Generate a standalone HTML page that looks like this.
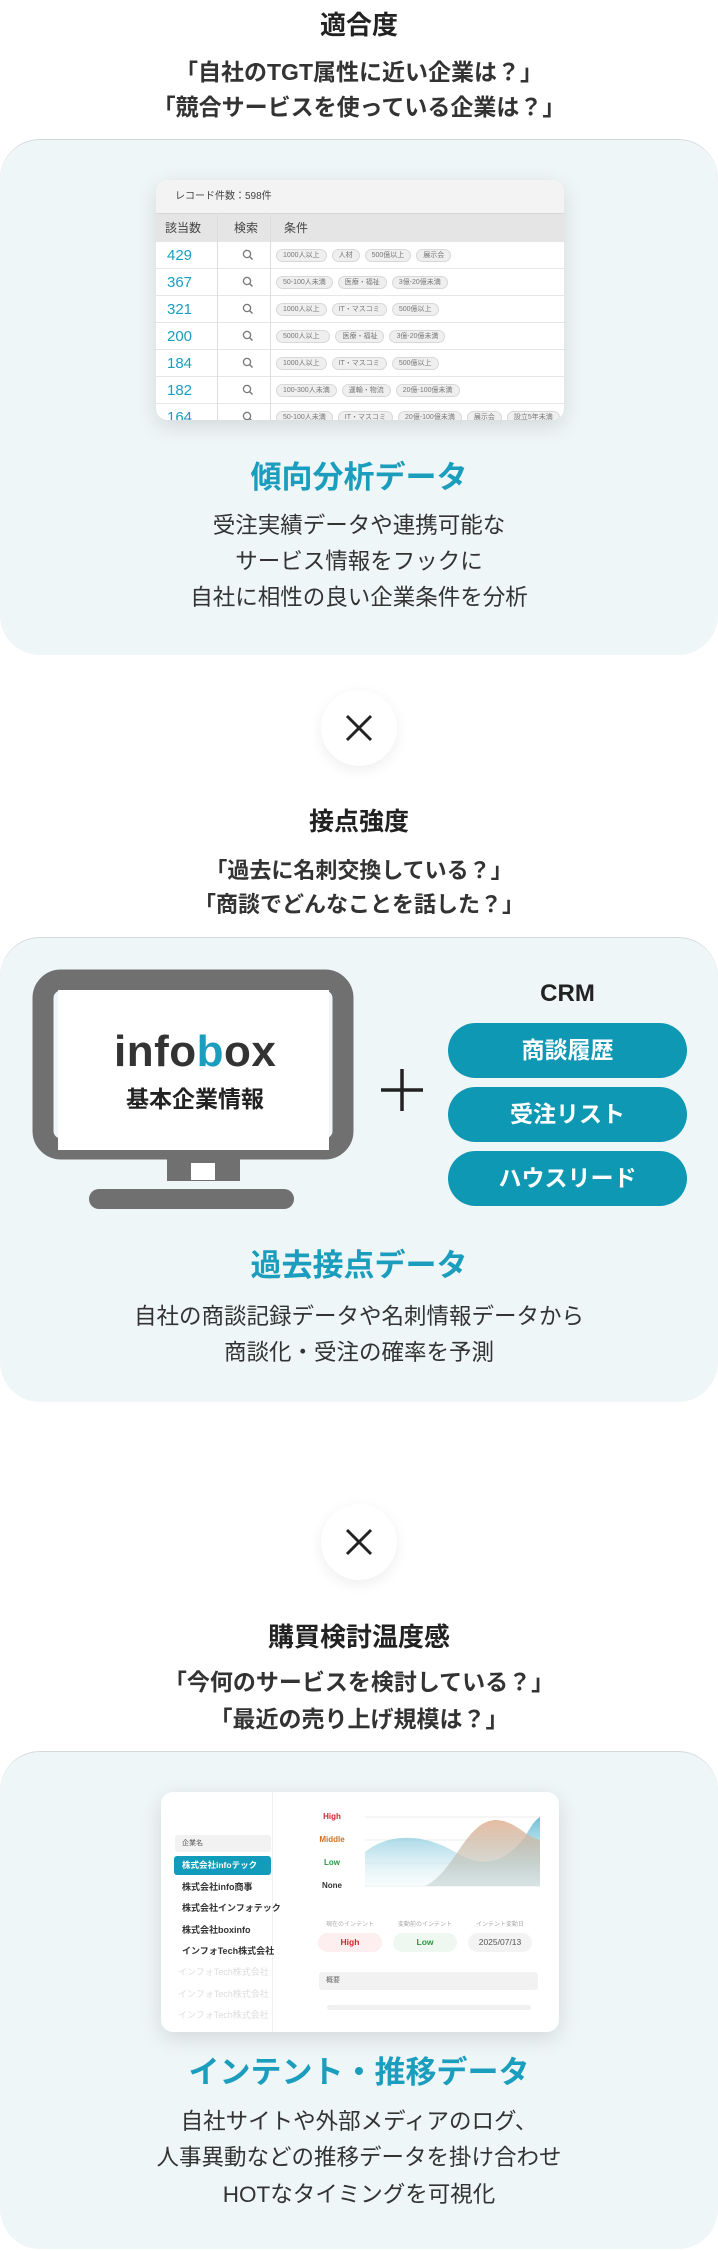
<!DOCTYPE html>
<html><head><meta charset="utf-8"><style>
*{margin:0;padding:0;box-sizing:border-box}
body{width:718px;height:2251px;position:relative;background:#fff;font-family:"Liberation Sans","Noto Sans CJK JP",sans-serif;color:#333;overflow:hidden}
.t{position:absolute;left:0;width:718px;text-align:center;white-space:nowrap}
.h{font-weight:700;color:#222}
.q{font-weight:700;color:#333;font-size:22.5px;line-height:30px}
.ttl{font-weight:700;color:#1b9dbd;font-size:31px;line-height:40px}
.d{font-size:22.5px;line-height:30px;color:#333}
.panel{position:absolute;left:0;width:718px;background:#eff6f7;border-radius:40px;border-top:1px solid #d3d9da}
.xc{position:absolute;width:76px;height:76px;border-radius:50%;background:#fff;box-shadow:0 4px 14px rgba(0,0,0,.07)}
.card{position:absolute;background:#fff;border-radius:12px;box-shadow:0 6px 22px rgba(0,0,0,.12);overflow:hidden}
.row{position:absolute;left:0;width:408px;height:27px;border-top:1px solid #e6e6e6;background:#fff}
.num{position:absolute;left:11px;top:5px;font-size:15px;color:#1b9dbd;font-weight:500}
.mag{position:absolute;left:86px;top:7px}
.chips{position:absolute;left:120px;top:7px;display:flex;gap:5px}
.chip{height:13px;border-radius:7px;background:#efefef;border:1px solid #d8d8d8;font-size:7px;line-height:11px;color:#777;padding:0 6px}
.pill{position:absolute;left:448px;width:239px;height:55px;border-radius:28px;background:#0f98b3;color:#fff;font-weight:700;font-size:23px;line-height:55px;text-align:center}
.it{position:absolute;left:182px;font-size:9px;font-weight:700;color:#333;line-height:12px}
</style></head><body>

<div class="t h" style="top:9px;font-size:26px;line-height:32px">適合度</div>
<div class="t q" style="top:57px;font-size:23px">「自社のTGT属性に近い企業は？」</div>
<div class="t q" style="top:92px;font-size:23px">「競合サービスを使っている企業は？」</div>

<div class="panel" style="top:139px;height:516px"></div>

<div class="card" style="left:156px;top:180px;width:408px;height:240px;background:#fff">
  <div style="position:absolute;left:0;top:0;width:408px;height:33px;background:#f3f3f3;font-size:10px;line-height:33px;padding-left:19px;color:#444">レコード件数：598件</div>
  <div style="position:absolute;left:0;top:33px;width:408px;height:28px;background:#e5e5e5;border-top:1px solid #d6d6d6;font-size:12px;line-height:28px;color:#444">
    <span style="position:absolute;left:9px">該当数</span><span style="position:absolute;left:78px">検索</span><span style="position:absolute;left:128px">条件</span></div>
  <div style="position:absolute;left:61px;top:33px;width:1px;height:240px;background:#ddd;z-index:3"></div>
  <div style="position:absolute;left:114px;top:33px;width:1px;height:240px;background:#ddd;z-index:3"></div>
  <div class="row" style="top:61px"><span class="num">429</span><svg class="mag" width="12" height="12"><circle cx="5" cy="5" r="3.6" fill="none" stroke="#777" stroke-width="1.3"/><line x1="7.6" y1="7.6" x2="10.5" y2="10.5" stroke="#777" stroke-width="1.4"/></svg><div class="chips"><span class="chip">1000人以上</span><span class="chip">人材</span><span class="chip">500億以上</span><span class="chip">展示会</span></div></div>
  <div class="row" style="top:88px"><span class="num">367</span><svg class="mag" width="12" height="12"><circle cx="5" cy="5" r="3.6" fill="none" stroke="#777" stroke-width="1.3"/><line x1="7.6" y1="7.6" x2="10.5" y2="10.5" stroke="#777" stroke-width="1.4"/></svg><div class="chips"><span class="chip">50-100人未満</span><span class="chip">医療・福祉</span><span class="chip">3億-20億未満</span></div></div>
  <div class="row" style="top:115px"><span class="num">321</span><svg class="mag" width="12" height="12"><circle cx="5" cy="5" r="3.6" fill="none" stroke="#777" stroke-width="1.3"/><line x1="7.6" y1="7.6" x2="10.5" y2="10.5" stroke="#777" stroke-width="1.4"/></svg><div class="chips"><span class="chip">1000人以上</span><span class="chip">IT・マスコミ</span><span class="chip">500億以上</span></div></div>
  <div class="row" style="top:142px"><span class="num">200</span><svg class="mag" width="12" height="12"><circle cx="5" cy="5" r="3.6" fill="none" stroke="#777" stroke-width="1.3"/><line x1="7.6" y1="7.6" x2="10.5" y2="10.5" stroke="#777" stroke-width="1.4"/></svg><div class="chips"><span class="chip">5000人以上&nbsp;&nbsp;</span><span class="chip">医療・福祉</span><span class="chip">3億-20億未満</span></div></div>
  <div class="row" style="top:169px"><span class="num">184</span><svg class="mag" width="12" height="12"><circle cx="5" cy="5" r="3.6" fill="none" stroke="#777" stroke-width="1.3"/><line x1="7.6" y1="7.6" x2="10.5" y2="10.5" stroke="#777" stroke-width="1.4"/></svg><div class="chips"><span class="chip">1000人以上</span><span class="chip">IT・マスコミ</span><span class="chip">500億以上</span></div></div>
  <div class="row" style="top:196px"><span class="num">182</span><svg class="mag" width="12" height="12"><circle cx="5" cy="5" r="3.6" fill="none" stroke="#777" stroke-width="1.3"/><line x1="7.6" y1="7.6" x2="10.5" y2="10.5" stroke="#777" stroke-width="1.4"/></svg><div class="chips"><span class="chip">100-300人未満</span><span class="chip">運輸・物流</span><span class="chip">20億-100億未満</span></div></div>
  <div class="row" style="top:223px"><span class="num">164</span><svg class="mag" width="12" height="12"><circle cx="5" cy="5" r="3.6" fill="none" stroke="#777" stroke-width="1.3"/><line x1="7.6" y1="7.6" x2="10.5" y2="10.5" stroke="#777" stroke-width="1.4"/></svg><div class="chips"><span class="chip">50-100人未満</span><span class="chip">IT・マスコミ</span><span class="chip">20億-100億未満</span><span class="chip">展示会</span><span class="chip">設立5年未満</span></div></div>
</div>

<div class="t ttl" style="top:458px">傾向分析データ</div>
<div class="t d" style="top:511px">受注実績データや連携可能な</div>
<div class="t d" style="top:547px">サービス情報をフックに</div>
<div class="t d" style="top:583px">自社に相性の良い企業条件を分析</div>

<!-- X 1 -->
<div class="xc" style="left:321px;top:690px"></div>
<svg style="position:absolute;left:345px;top:714px" width="28" height="28"><line x1="2" y1="2" x2="26" y2="26" stroke="#222" stroke-width="3"/><line x1="26" y1="2" x2="2" y2="26" stroke="#222" stroke-width="3"/></svg>

<div class="t h" style="top:807px;font-size:25px;line-height:30px">接点強度</div>
<div class="t q" style="top:856px;font-size:22px">「過去に名刺交換している？」</div>
<div class="t q" style="top:890px;font-size:22px">「商談でどんなことを話した？」</div>

<div class="panel" style="top:937px;height:465px"></div>

<svg style="position:absolute;left:0;top:960px" width="400" height="260">
  <rect x="43" y="20" width="300" height="169" rx="18" fill="none" stroke="#707070" stroke-width="21"/>
  <rect x="58" y="30" width="271" height="160" fill="#fff"/>
  <rect x="167" y="199" width="73" height="22" fill="#707070"/>
  <rect x="191" y="203" width="24" height="17" fill="#fff"/>
  <rect x="89" y="229" width="205" height="20" rx="10" fill="#707070"/>
</svg>
<div style="position:absolute;left:114px;top:1026px;width:166px;font-size:44px;font-weight:700;line-height:52px;color:#333;letter-spacing:0.5px">info<span style="color:#1b9dbd">b</span>ox</div>
<div style="position:absolute;left:100px;top:1085px;width:190px;text-align:center;font-size:23px;font-weight:700;line-height:28px;color:#222">基本企業情報</div>

<svg style="position:absolute;left:380px;top:1068px" width="44" height="44"><line x1="22" y1="1" x2="22" y2="43" stroke="#222" stroke-width="3.5"/><line x1="1" y1="22" x2="43" y2="22" stroke="#222" stroke-width="3.5"/></svg>

<div style="position:absolute;left:448px;width:239px;top:980px;text-align:center;font-size:24px;font-weight:700;line-height:28px;color:#222">CRM</div>
<div class="pill" style="top:1023px">商談履歴</div>
<div class="pill" style="top:1087px">受注リスト</div>
<div class="pill" style="top:1151px">ハウスリード</div>

<div class="t ttl" style="top:1246px">過去接点データ</div>
<div class="t d" style="top:1302px">自社の商談記録データや名刺情報データから</div>
<div class="t d" style="top:1338px">商談化・受注の確率を予測</div>

<!-- X 2 -->
<div class="xc" style="left:321px;top:1504px"></div>
<svg style="position:absolute;left:345px;top:1528px" width="28" height="28"><line x1="2" y1="2" x2="26" y2="26" stroke="#222" stroke-width="3"/><line x1="26" y1="2" x2="2" y2="26" stroke="#222" stroke-width="3"/></svg>

<div class="t h" style="top:1621px;font-size:26px;line-height:32px">購買検討温度感</div>
<div class="t q" style="top:1667px;font-size:23px">「今何のサービスを検討している？」</div>
<div class="t q" style="top:1704px;font-size:23px">「最近の売り上げ規模は？」</div>

<div class="panel" style="top:1751px;height:498px"></div>

<div class="card" style="left:161px;top:1792px;width:398px;height:240px">
  <div style="position:absolute;left:111px;top:0;width:1px;height:240px;background:#f0f0f0"></div>
  <div style="position:absolute;left:14px;top:43px;width:96px;height:17px;background:#f2f2f2;border-radius:3px;font-size:7px;line-height:17px;padding-left:7px;color:#555">企業名</div>
  <div style="position:absolute;left:13px;top:64px;width:97px;height:19px;background:#129cbb;border-radius:3px;font-size:8.5px;font-weight:700;line-height:19px;padding-left:8px;color:#fff">株式会社infoテック</div>
</div>
<div class="it" style="top:1881px">株式会社info商事</div>
<div class="it" style="top:1902px">株式会社インフォテック</div>
<div class="it" style="top:1924px">株式会社boxinfo</div>
<div class="it" style="top:1945px">インフォTech株式会社</div>
<div class="it" style="top:1966px;left:178px;color:#ddd;font-weight:400">インフォTech株式会社</div>
<div class="it" style="top:1988px;left:178px;color:#ddd;font-weight:400">インフォTech株式会社</div>
<div class="it" style="top:2009px;left:178px;color:#ddd;font-weight:400">インフォTech株式会社</div>

<div style="position:absolute;left:312px;width:40px;text-align:center;font-size:8px;font-weight:700;line-height:10px">
  <div style="position:absolute;top:1812px;width:40px;color:#d0242f">High</div>
  <div style="position:absolute;top:1835px;width:40px;color:#d0701e">Middle</div>
  <div style="position:absolute;top:1858px;width:40px;color:#2f9444">Low</div>
  <div style="position:absolute;top:1881px;width:40px;color:#333">None</div>
</div>
<svg style="position:absolute;left:365px;top:1812px" width="175" height="80">
  <defs>
    <linearGradient id="gb" x1="0" y1="0" x2="0" y2="1"><stop offset="0" stop-color="#6fbfd6"/><stop offset="1" stop-color="#e8f5f9" stop-opacity=".3"/></linearGradient>
    <linearGradient id="go" x1="0" y1="0" x2="0" y2="1"><stop offset="0" stop-color="#e3b596"/><stop offset="1" stop-color="#9fb9b8" stop-opacity=".4"/></linearGradient>
  </defs>
  <line x1="0" y1="5" x2="175" y2="5" stroke="#eee"/><line x1="0" y1="28" x2="175" y2="28" stroke="#eee"/><line x1="0" y1="51" x2="175" y2="51" stroke="#eee"/><line x1="0" y1="74" x2="175" y2="74" stroke="#eee"/>
  <path d="M0 40 C25 20 60 22 90 40 C120 58 140 50 160 25 C165 15 170 8 175 5 L175 74 L0 74 Z" fill="url(#gb)"/>
  <path d="M60 74 C90 60 100 10 130 8 C150 8 160 25 175 28 L175 74 Z" fill="url(#go)" opacity=".9"/>
</svg>

<div style="position:absolute;top:1919px;left:318px;width:64px;text-align:center;font-size:6px;color:#aaa">現在のインテント</div>
<div style="position:absolute;top:1919px;left:393px;width:64px;text-align:center;font-size:6px;color:#aaa">変動前のインテント</div>
<div style="position:absolute;top:1919px;left:468px;width:64px;text-align:center;font-size:6px;color:#aaa">インテント変動日</div>
<div style="position:absolute;top:1933px;left:318px;width:64px;height:19px;border-radius:10px;background:#fdeef0;color:#d0242f;font-size:8.5px;font-weight:700;line-height:19px;text-align:center">High</div>
<div style="position:absolute;top:1933px;left:393px;width:64px;height:19px;border-radius:10px;background:#eef8f0;color:#2f9444;font-size:8.5px;font-weight:700;line-height:19px;text-align:center">Low</div>
<div style="position:absolute;top:1933px;left:468px;width:64px;height:19px;border-radius:10px;background:#f3f3f3;color:#555;font-size:8.5px;line-height:19px;text-align:center">2025/07/13</div>
<div style="position:absolute;top:1972px;left:319px;width:219px;height:18px;border-radius:3px;background:#f2f2f2;font-size:7px;line-height:18px;padding-left:7px;color:#666">概要</div>
<div style="position:absolute;top:2005px;left:327px;width:204px;height:5px;border-radius:3px;background:#f0f0f0"></div>

<div class="t ttl" style="top:2053px">インテント・推移データ</div>
<div class="t d" style="top:2107px">自社サイトや外部メディアのログ、</div>
<div class="t d" style="top:2143px">人事異動などの推移データを掛け合わせ</div>
<div class="t d" style="top:2180px">HOTなタイミングを可視化</div>

</body></html>
